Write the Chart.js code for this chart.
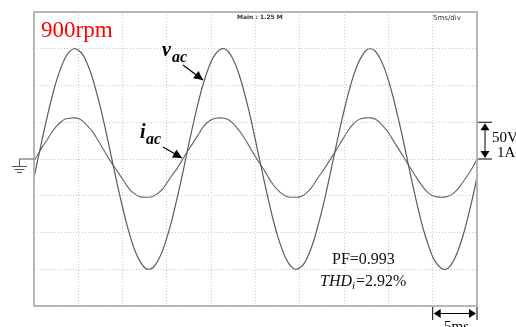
<!DOCTYPE html>
<html>
<head>
<meta charset="utf-8">
<script src="https://cdn.jsdelivr.net/npm/chart.js@4/dist/chart.umd.min.js"></script>
<style>
  html, body { margin: 0; padding: 0; background: #ffffff; }
  #wrap { width: 516px; height: 327px; }
</style>
</head>
<body>
<div id="wrap"><canvas id="scope" width="516" height="327"></canvas></div>
<script>
// sample times (ms), 5 ms/div, 10 div
const timeMs = [0,0.5,1,1.5,2,2.5,3,3.5,4,4.5,5,5.5,6,6.5,7,7.5,8,8.5,9,9.5,
  10,10.5,11,11.5,12,12.5,13,13.5,14,14.5,15,15.5,16,16.5,17,17.5,18,18.5,19,19.5,
  20,20.5,21,21.5,22,22.5,23,23.5,24,24.5,25,25.5,26,26.5,27,27.5,28,28.5,29,29.5,
  30,30.5,31,31.5,32,32.5,33,33.5,34,34.5,35,35.5,36,36.5,37,37.5,38,38.5,39,39.5,
  40,40.5,41,41.5,42,42.5,43,43.5,44,44.5,45,45.5,46,46.5,47,47.5,48,48.5,49,49.5,50];

// v_ac in volts (50 V/div)
const vacVolts = [-25,3,31,58,83,105,123,137,146,150,148,142,130,114,93,70,44,16,-12,-40,
  -66,-90,-111,-128,-140,-148,-150,-147,-138,-125,-107,-86,-61,-35,-7,22,49,75,98,117,
  133,143,149,150,145,135,120,101,78,53,25,-3,-31,-58,-83,-105,-123,-137,-146,-150,
  -148,-142,-130,-114,-93,-70,-44,-16,12,40,66,90,111,128,140,148,150,147,138,125,
  107,86,61,35,7,-22,-49,-75,-98,-117,-133,-143,-149,-150,-145,-135,-120,-101,-78,-53,-25];

// i_ac in amps (1 A/div)
const iacAmps = [-0.06,0.15,0.35,0.53,0.72,0.88,1.00,1.09,1.11,1.12,1.10,1.03,0.91,0.78,0.60,0.40,0.19,-0.01,-0.19,-0.37,
  -0.55,-0.73,-0.88,-0.97,-1.03,-1.04,-1.04,-1.01,-0.93,-0.82,-0.65,-0.47,-0.31,-0.12,0.08,0.27,0.46,0.65,0.84,0.98,
  1.07,1.11,1.12,1.11,1.06,0.96,0.82,0.66,0.47,0.26,0.06,-0.13,-0.31,-0.52,-0.70,-0.84,-0.95,-1.02,-1.04,-1.04,
  -1.03,-0.97,-0.87,-0.72,-0.53,-0.36,-0.18,0.01,0.20,0.40,0.60,0.79,0.94,1.05,1.10,1.12,1.12,1.09,1.00,0.87,
  0.72,0.52,0.33,0.14,-0.06,-0.25,-0.44,-0.63,-0.79,-0.92,-1.00,-1.03,-1.04,-1.03,-0.99,-0.90,-0.77,-0.60,-0.42,-0.23,0.00];

const serif = '"Liberation Serif", "Times New Roman", serif';

function arrowHead(ctx, x1, y1, x2, y2, len, half){
    const a = Math.atan2(y2 - y1, x2 - x1);
    ctx.beginPath();
    ctx.moveTo(x2, y2);
    ctx.lineTo(x2 - len*Math.cos(a) + half*Math.sin(a), y2 - len*Math.sin(a) - half*Math.cos(a));
    ctx.lineTo(x2 - len*Math.cos(a) - half*Math.sin(a), y2 - len*Math.sin(a) + half*Math.cos(a));
    ctx.closePath();
    ctx.fill();
}

function arrow(ctx, x1, y1, x2, y2){
    ctx.beginPath();
    ctx.moveTo(x1, y1);
    ctx.lineTo(x2, y2);
    ctx.stroke();
    arrowHead(ctx, x1, y1, x2, y2, 9, 4.5);
}

const scopeDecor = {
    id: 'scopeDecor',
    afterDraw(chart){
        const ctx = chart.ctx;
        const area = chart.chartArea;
        const xs = chart.scales.x, ys = chart.scales.y;
        ctx.save();

        // frame
        ctx.strokeStyle = '#b0b0b0';
        ctx.lineWidth = 1.8;
        ctx.strokeRect(area.left, area.top, area.right - area.left, area.bottom - area.top);

        // ground symbol at 0 V
        const y0 = ys.getPixelForValue(0);
        ctx.strokeStyle = '#555';
        ctx.lineWidth = 1;
        ctx.beginPath();
        ctx.moveTo(19.5, y0); ctx.lineTo(area.left, y0);
        ctx.moveTo(19.5, y0); ctx.lineTo(19.5, y0 + 7);
        ctx.moveTo(12, y0 + 7.5); ctx.lineTo(27, y0 + 7.5);
        ctx.moveTo(14.5, y0 + 10.5); ctx.lineTo(24.5, y0 + 10.5);
        ctx.moveTo(17, y0 + 13.5); ctx.lineTo(22, y0 + 13.5);
        ctx.stroke();

        // scope header text
        ctx.fillStyle = '#333';
        ctx.font = 'bold 6px "DejaVu Sans", sans-serif';
        ctx.textBaseline = 'alphabetic';
        ctx.fillText('Main : 1.25 M', 237, 19);
        ctx.font = '7px "DejaVu Sans", sans-serif';
        ctx.fillText('5ms/div', 433, 20);

        // 900rpm
        ctx.fillStyle = '#ff0000';
        ctx.font = '23px ' + serif;
        ctx.fillText('900rpm', 41, 37);

        // v_ac label + arrow
        ctx.fillStyle = '#000';
        ctx.font = 'bold italic 20px ' + serif;
        ctx.fillText('v', 162, 56);
        ctx.font = 'bold italic 16px ' + serif;
        ctx.fillText('ac', 172, 62);
        ctx.strokeStyle = '#000';
        ctx.lineWidth = 1.2;
        arrow(ctx, 183, 65, 203, 80);

        // i_ac label + arrow
        ctx.font = 'bold italic 20px ' + serif;
        ctx.fillText('i', 140, 138);
        ctx.font = 'bold italic 16px ' + serif;
        ctx.fillText('ac', 146, 144);
        arrow(ctx, 163, 147, 182, 158);

        // PF / THD
        ctx.fillStyle = '#111';
        ctx.font = '16px ' + serif;
        ctx.fillText('PF=0.993', 332, 264);
        ctx.font = 'italic 16px ' + serif;
        ctx.fillText('THD', 320, 286);
        let w = ctx.measureText('THD').width;
        ctx.font = 'italic 11px ' + serif;
        ctx.fillText('i', 320 + w, 289);
        let w2 = ctx.measureText('i').width;
        ctx.font = '16px ' + serif;
        ctx.fillText('=2.92%', 320 + w + w2 + 1, 286);

        // 50V / 1A scale marker (one division)
        const yTop = ys.getPixelForValue(50);
        ctx.strokeStyle = '#000';
        ctx.fillStyle = '#000';
        ctx.lineWidth = 1;
        ctx.beginPath();
        ctx.moveTo(478, yTop); ctx.lineTo(492, yTop);
        ctx.moveTo(478, y0); ctx.lineTo(492, y0);
        ctx.moveTo(485, yTop + 6); ctx.lineTo(485, y0 - 6);
        ctx.stroke();
        arrowHead(ctx, 485, y0, 485, yTop + 1, 7, 4.5);
        arrowHead(ctx, 485, yTop, 485, y0 - 1, 7, 4.5);
        ctx.font = '15px ' + serif;
        ctx.fillText('50V', 492, 142);
        ctx.fillText('1A', 497, 157);

        // 5ms marker (one division)
        const xa = xs.getPixelForValue(45), xb = xs.getPixelForValue(50);
        ctx.beginPath();
        ctx.moveTo(xa, 307); ctx.lineTo(xa, 320);
        ctx.moveTo(xb, 307); ctx.lineTo(xb, 320);
        ctx.moveTo(xa + 6, 313.5); ctx.lineTo(xb - 6, 313.5);
        ctx.stroke();
        arrowHead(ctx, xb, 313.5, xa + 1, 313.5, 7, 4.5);
        arrowHead(ctx, xa, 313.5, xb - 1, 313.5, 7, 4.5);
        ctx.font = '15px ' + serif;
        ctx.fillText('5ms', 444, 331);

        ctx.restore();
    }
};

const vacPoints = timeMs.map((t, i) => ({x: t, y: vacVolts[i]}));
const iacPoints = timeMs.map((t, i) => ({x: t, y: iacAmps[i]}));

const gridStyle = { color: '#c8c8c8', lineWidth: 1, drawTicks: false };

new Chart(document.getElementById('scope'), {
    type: 'line',
    data: {
        datasets: [
            {
                label: 'vac',
                data: vacPoints,
                yAxisID: 'y',
                borderColor: '#5c5c5c',
                borderWidth: 1.2,
                pointRadius: 0,
                tension: 0.3,
                fill: false
            },
            {
                label: 'iac',
                data: iacPoints,
                yAxisID: 'yI',
                borderColor: '#626262',
                borderWidth: 1.1,
                pointRadius: 0,
                tension: 0.15,
                fill: false
            }
        ]
    },
    options: {
        responsive: false,
        animation: false,
        events: [],
        layout: { padding: { left: 34, top: 12, right: 39, bottom: 21 } },
        plugins: { legend: { display: false }, tooltip: { enabled: false } },
        scales: {
            x: {
                type: 'linear', min: 0, max: 50,
                ticks: { display: false, stepSize: 5 },
                grid: gridStyle,
                border: { display: false, dash: [1, 2] }
            },
            y: {
                min: -200, max: 200,
                ticks: { display: false, stepSize: 50 },
                grid: gridStyle,
                border: { display: false, dash: [1, 2] }
            },
            yI: {
                min: -4, max: 4,
                display: false
            }
        }
    },
    plugins: [scopeDecor]
});
</script>
</body>
</html>
